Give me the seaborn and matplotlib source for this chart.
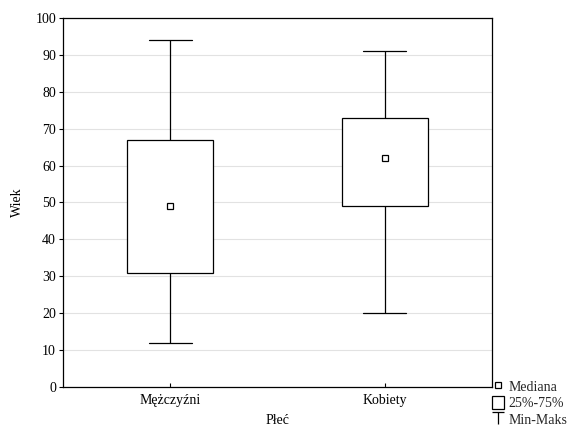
import matplotlib
matplotlib.use('Agg')
import matplotlib.pyplot as plt
import matplotlib.path as mpath
from matplotlib.lines import Line2D
from matplotlib.patches import Patch
import pandas as pd
import seaborn as sns

# five-number summaries (min, Q1, median, Q3, max)
groups = ['Mężczyźni', 'Kobiety']
men_vals = [12, 31, 49, 67, 94]
women_vals = [20, 49, 62, 73, 91]
y_ticks = list(range(0, 101, 10))

df = pd.DataFrame({
    'Płeć': [groups[0]] * len(men_vals) + [groups[1]] * len(women_vals),
    'Wiek': men_vals + women_vals,
})

sns.set_theme(style='white')
plt.rcParams['font.family'] = ['Liberation Serif', 'DejaVu Serif']
plt.rcParams['font.size'] = 10

fig = plt.figure(figsize=(5.74, 4.28), dpi=100)
ax = fig.add_axes([0.1098, 0.0958, 0.7472, 0.8622])

# whis=(0, 100) -> whiskers run from min to max
sns.boxplot(data=df, x='Płeć', y='Wiek', order=groups, whis=(0, 100), width=0.4,
            color='white', linecolor='black', linewidth=0.9,
            medianprops={'visible': False}, ax=ax,
            boxprops={'facecolor': 'white', 'edgecolor': 'black'},
            capprops={'color': 'black'}, whiskerprops={'color': 'black'})

# median as a small hollow square
sns.pointplot(data=df, x='Płeć', y='Wiek', order=groups, estimator='median',
              errorbar=None, markers='s', linestyles='none', color='black',
              markersize=4, markerfacecolor='white', markeredgewidth=0.9, ax=ax)

ax.set_xlim(-0.5, 1.5)
ax.set_ylim(0, 100)
ax.set_yticks(y_ticks)
ax.yaxis.grid(True, color='#e2e2e2', linewidth=0.8)
ax.set_axisbelow(True)
for s in ax.spines.values():
    s.set_color('black')
    s.set_linewidth(0.9)
ax.tick_params(axis='y', direction='out', length=3, width=0.8, left=True, colors='black', labelsize=10, pad=2)
ax.tick_params(axis='x', direction='in', length=3, width=0.8, bottom=True, colors='black', labelsize=10, pad=5)
ax.set_xlabel('Płeć', fontsize=10, color='black')
ax.set_ylabel('Wiek', fontsize=10, color='black')
ax.xaxis.set_label_coords(0.5, -0.074)
ax.yaxis.set_label_coords(-0.09, 0.5)

t_path = mpath.Path([(-1, 1), (1, 1), (0, 1), (0, -1)],
                    [mpath.Path.MOVETO, mpath.Path.LINETO, mpath.Path.MOVETO, mpath.Path.LINETO])
handles = [
    Line2D([], [], marker='s', linestyle='none', markersize=4, markerfacecolor='white',
           markeredgecolor='black', markeredgewidth=0.9),
    Patch(facecolor='white', edgecolor='black', linewidth=0.9),
    Line2D([], [], marker=t_path, linestyle='none', markersize=8, color='black',
           markeredgewidth=0.9),
]
fig.legend(handles, ['Mediana', '25%-75%', 'Min-Maks'], loc='lower right',
           bbox_to_anchor=(1.005, -0.02), frameon=False, fontsize=10,
           handlelength=0.9, handleheight=1.1, handletextpad=0.3, labelspacing=0.15,
           borderpad=0.2)

fig.savefig('out.png', dpi=100)
